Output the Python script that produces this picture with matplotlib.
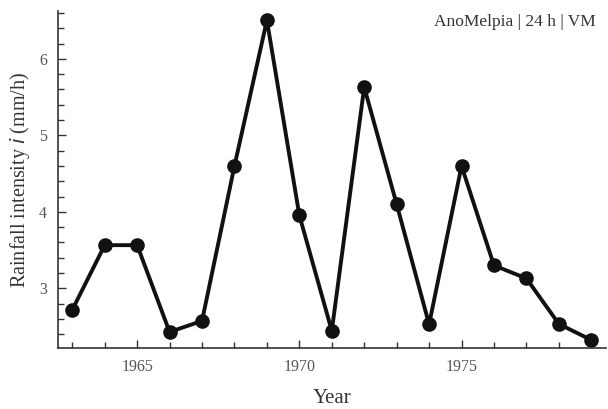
import numpy as np
import matplotlib
matplotlib.use("Agg")
import matplotlib.pyplot as plt
from matplotlib.ticker import MultipleLocator

# data
years = list(range(1963, 1980))
intensity = [2.72, 3.565, 3.565, 2.43, 2.575, 4.60, 6.505, 3.955, 2.445,
             5.63, 4.10, 2.53, 4.60, 3.30, 3.13, 2.535, 2.325]
x_labels = ["1965", "1970", "1975"]

plt.rcParams['font.family'] = ['Liberation Serif', 'DejaVu Serif']

fig = plt.figure(figsize=(6.08, 4.09), dpi=100)
ax = fig.add_axes([0.0954, 0.149, 0.9006, 0.824])

ax.plot(years, intensity, "-", color="#111111", lw=2.8,
        marker="o", ms=9.5, mfc="#111111", mec="#111111")

ax.set_xlim(1962.56, 1979.44)
ax.set_ylim(2.22, 6.625)

ax.xaxis.set_major_locator(MultipleLocator(5))
ax.xaxis.set_minor_locator(MultipleLocator(1))
ax.set_xticks([1965, 1970, 1975])
ax.set_xticklabels(x_labels)
ax.yaxis.set_major_locator(MultipleLocator(1))
ax.yaxis.set_minor_locator(MultipleLocator(0.2))

for side in ["top", "right"]:
    ax.spines[side].set_visible(False)
for side in ["left", "bottom"]:
    ax.spines[side].set_color("#333333")
    ax.spines[side].set_linewidth(1.2)

ax.tick_params(which="major", direction="in", length=6, width=1.0,
               color="#333333", labelsize=11.5, labelcolor="#555555", pad=8)
ax.tick_params(which="minor", direction="in", length=4, width=1.0,
               color="#333333")

ax.set_xlabel("Year", fontsize=15, color="#333333", labelpad=10)
ax.set_ylabel("Rainfall intensity $\\it{i}$ (mm/h)", fontsize=14.5,
              color="#333333", labelpad=5)

ax.text(0.982, 0.992, "AnoMelpia | 24 h | VM", transform=ax.transAxes,
        ha="right", va="top", fontsize=12.5, color="#333333")

fig.savefig("out.png", dpi=100)
